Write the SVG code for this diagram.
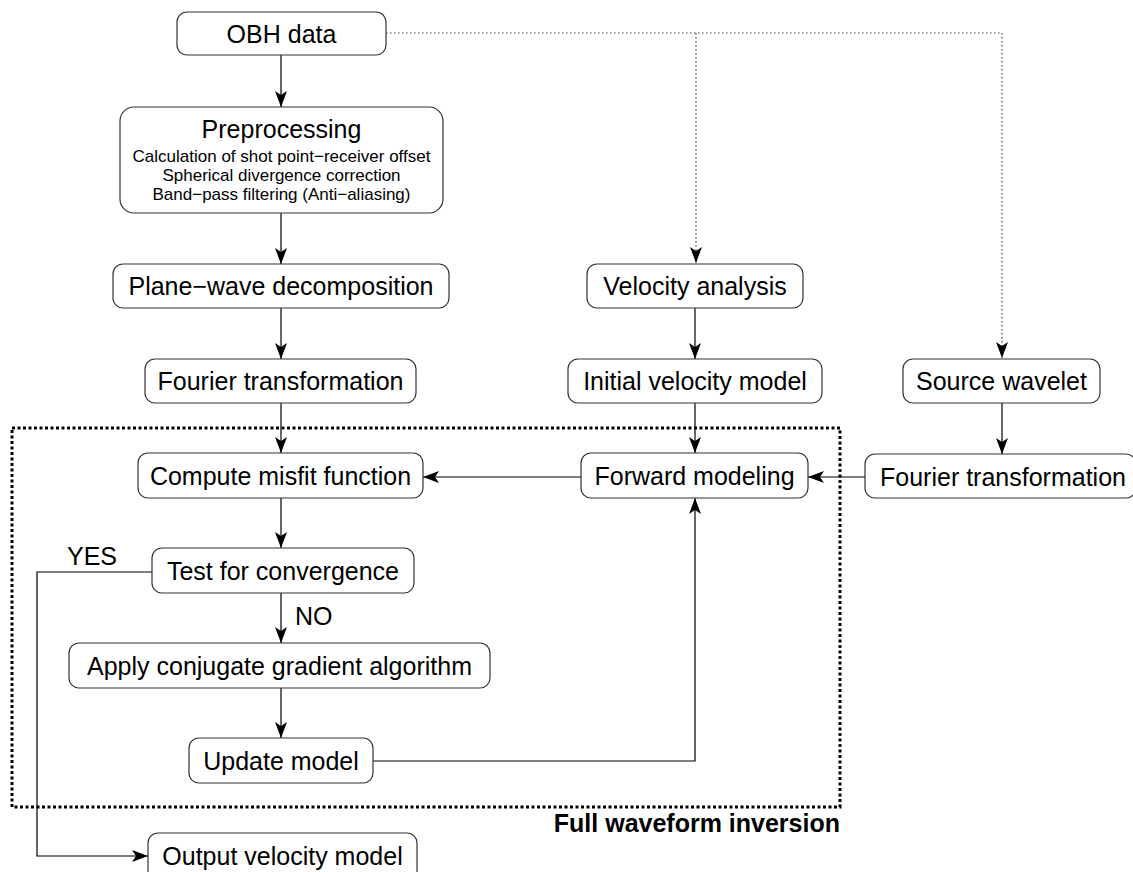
<svg xmlns="http://www.w3.org/2000/svg" width="1133" height="872" viewBox="0 0 1133 872">
<defs>
<style>
.box{fill:#fff;stroke:#333;stroke-width:1.2}
.t{font-family:"Liberation Sans",Arial,sans-serif;font-size:25px;fill:#000;text-anchor:middle}
.s{font-family:"Liberation Sans",Arial,sans-serif;font-size:17px;fill:#000;text-anchor:middle}
.lbl{font-family:"Liberation Sans",Arial,sans-serif;font-size:25px;fill:#000}
.c{fill:none;stroke:#000;stroke-width:1.2}
.d{fill:none;stroke:#444;stroke-width:1.2;stroke-dasharray:1.5 2.5}
.frame{fill:none;stroke:#000;stroke-width:3;stroke-dasharray:3 2.5}
</style>
<marker id="ah" viewBox="0 0 16 12" refX="16" refY="6" markerWidth="16" markerHeight="12" markerUnits="userSpaceOnUse" orient="auto">
<path d="M0,0 L16,6 L0,12 L4,6 z" fill="#000"/>
</marker>
</defs>
<rect width="1133" height="872" fill="#fff"/>
<g id="fwi-frame">
<rect class="frame" x="12" y="428" width="828" height="379"/>
<text x="840" y="832" class="lbl" style="font-weight:bold;text-anchor:end">Full waveform inversion</text>
</g>
<g id="connectors">
<path class="d" d="M386,33 H1002 V358" marker-end="url(#ah)"/>
<path class="d" d="M696,33 V263" marker-end="url(#ah)"/>
<path class="c" d="M281,55 V107" marker-end="url(#ah)"/>
<path class="c" d="M281,213 V264" marker-end="url(#ah)"/>
<path class="c" d="M281,308 V359" marker-end="url(#ah)"/>
<path class="c" d="M281,403 V453" marker-end="url(#ah)"/>
<path class="c" d="M281,498 V548" marker-end="url(#ah)"/>
<path class="c" d="M281,593 V643" marker-end="url(#ah)"/>
<path class="c" d="M281,688 V738" marker-end="url(#ah)"/>
<path class="c" d="M373,761 H695 V498" marker-end="url(#ah)"/>
<path class="c" d="M152,572 H37 V856 H148" marker-end="url(#ah)"/>
<path class="c" d="M695,308 V359" marker-end="url(#ah)"/>
<path class="c" d="M695,403 V453" marker-end="url(#ah)"/>
<path class="c" d="M581,477 H423" marker-end="url(#ah)"/>
<path class="c" d="M1002,403 V454" marker-end="url(#ah)"/>
<path class="c" d="M865,477 H808" marker-end="url(#ah)"/>
<text x="67" y="565" class="lbl">YES</text>
<text x="295" y="625" class="lbl">NO</text>
</g>
<g id="obh"><rect class="box" x="177" y="12" width="209" height="43" rx="10"/><text class="t" x="281.5" y="43">OBH data</text></g>
<g id="preprocessing"><rect class="box" x="120" y="107" width="323" height="106" rx="14"/>
<text class="t" x="281.5" y="138">Preprocessing</text>
<text class="s" x="281.5" y="162">Calculation of shot point−receiver offset</text>
<text class="s" x="281.5" y="181">Spherical divergence correction</text>
<text class="s" x="281.5" y="200">Band−pass filtering (Anti−aliasing)</text></g>
<g id="planewave"><rect class="box" x="113" y="264" width="336" height="44" rx="10"/><text class="t" x="281" y="295">Plane−wave decomposition</text></g>
<g id="fourier1"><rect class="box" x="145" y="359" width="271" height="44" rx="10"/><text class="t" x="280.5" y="390">Fourier transformation</text></g>
<g id="misfit"><rect class="box" x="138" y="453" width="285" height="45" rx="10"/><text class="t" x="280.5" y="485">Compute misfit function</text></g>
<g id="convergence"><rect class="box" x="152" y="548" width="262" height="45" rx="10"/><text class="t" x="283" y="580">Test for convergence</text></g>
<g id="conjugate"><rect class="box" x="69" y="643" width="421" height="45" rx="10"/><text class="t" x="279.5" y="675">Apply conjugate gradient algorithm</text></g>
<g id="update"><rect class="box" x="189" y="738" width="184" height="45" rx="10"/><text class="t" x="281" y="770">Update model</text></g>
<g id="output"><rect class="box" x="148" y="833" width="269" height="50" rx="10"/><text class="t" x="282.5" y="865">Output velocity model</text></g>
<g id="velocity"><rect class="box" x="587" y="264" width="216" height="44" rx="10"/><text class="t" x="695" y="295">Velocity analysis</text></g>
<g id="initial"><rect class="box" x="568" y="359" width="254" height="44" rx="10"/><text class="t" x="695" y="390">Initial velocity model</text></g>
<g id="forward"><rect class="box" x="581" y="453" width="227" height="45" rx="10"/><text class="t" x="694.5" y="485">Forward modeling</text></g>
<g id="source"><rect class="box" x="903" y="359" width="197" height="44" rx="10"/><text class="t" x="1001.5" y="390">Source wavelet</text></g>
<g id="fourier2"><rect class="box" x="865" y="454" width="271" height="44" rx="10"/><text class="t" x="1003" y="486">Fourier transformation</text></g>
</svg>
